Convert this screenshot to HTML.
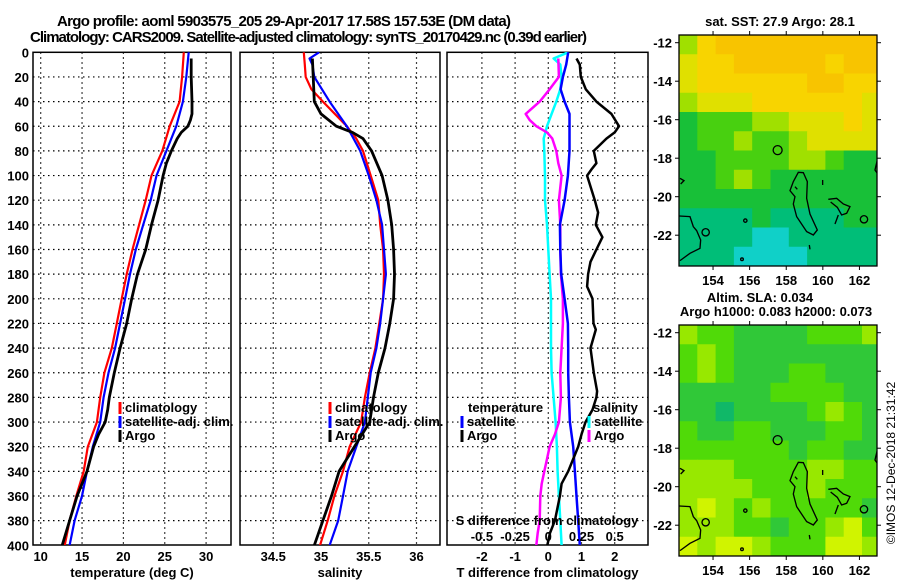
<!DOCTYPE html>
<html><head><meta charset="utf-8">
<style>
html,body{margin:0;padding:0;background:#fff;}
svg{display:block;font-family:"Liberation Sans",Arial,sans-serif;font-weight:bold;}
text{font-size:13px;fill:#000;}
</style></head>
<body>
<svg id="chart" width="900" height="580" viewBox="0 0 900 580" xmlns="http://www.w3.org/2000/svg">
<defs>
<clipPath id="c1"><rect x="33" y="52" width="198" height="493"/></clipPath>
<clipPath id="c2"><rect x="240" y="52" width="200" height="493"/></clipPath>
<clipPath id="c3"><rect x="447" y="52" width="201" height="493"/></clipPath>
<clipPath id="cm1"><rect x="679" y="35" width="198" height="231"/></clipPath>
<clipPath id="cm2"><rect x="679" y="325" width="198" height="231"/></clipPath>
</defs>
<text x="57" y="26" style="font-size:15px" textLength="454">Argo profile: aoml 5903575_205 29-Apr-2017 17.58S 157.53E (DM data)</text>
<text x="30" y="42" style="font-size:15px" textLength="557">Climatology: CARS2009. Satellite-adjusted climatology: synTS_20170429.nc (0.39d earlier)</text>
<g id="p1"></g>
<g id="p2"></g>
<g id="p3"></g>
<g id="m1"></g>
<g id="m2"></g>
<text x="780" y="26" text-anchor="middle">sat. SST: 27.9 Argo: 28.1</text>
<text x="760" y="302" text-anchor="middle">Altim. SLA: 0.034</text>
<text x="776" y="316" text-anchor="middle">Argo h1000: 0.083 h2000: 0.073</text>
<text transform="translate(895,463) rotate(-90)" text-anchor="middle" style="font-size:12px;font-weight:normal">©IMOS 12-Dec-2018 21:31:42</text>
</svg>
<script>
// ---- data ----
const yTicks = [0,20,40,60,80,100,120,140,160,180,200,220,240,260,280,300,320,340,360,380,400];
const tTicks = [10,15,20,25,30];
const sTicks = [34.5,35,35.5,36];
const sTickLabels = ["34.5","35","35.5","36"];
const dTicks = [-2,-1,0,1,2];
const dsTicks = [-0.5,-0.25,0,0.25,0.5];
const dsTickLabels = ["-0.5","-0.25","0","0.25","0.5"];

const tDepth = [0,20,40,60,80,100,120,140,160,180,200,220,240,260,280,300,320,340,360,380,400];
const tClim = [27.3,27.1,26.8,25.6,24.7,23.4,22.7,21.9,21.1,20.4,19.8,19.2,18.6,17.7,17.2,16.8,15.7,15.2,14.3,13.5,12.9];
const tSat = [27.9,27.6,27.2,26.4,25.2,24.0,23.3,22.4,21.5,20.8,20.2,19.6,19.0,18.2,17.6,17.2,16.3,15.6,15.0,14.1,13.5];
const tArgoDepth = [5,20,40,50,55,60,65,70,80,90,100,120,140,160,180,200,220,240,260,280,290,300,310,320,340,360,380,400];
const tArgo = [28.2,28.2,28.3,28.3,28.1,27.8,27.0,26.5,25.8,25.2,24.8,24.2,23.4,22.7,21.7,21.0,20.4,19.6,18.9,18.3,18.1,17.8,17.0,16.4,15.6,14.4,13.5,12.6];

const sClimDepth = [0,10,20,30,40,60,70,80,100,120,140,160,180,200,220,240,260,280,300,320,340,360,380,400];
const sClim = [34.82,34.83,34.84,34.90,35.02,35.27,35.37,35.44,35.52,35.60,35.62,35.65,35.66,35.65,35.61,35.57,35.51,35.46,35.42,35.30,35.23,35.14,35.07,34.99];
const sSatDepth = [0,5,10,20,40,60,80,100,120,140,160,180,200,220,240,260,280,300,320,340,360,380,400];
const sSat = [34.98,34.88,34.91,34.93,35.09,35.27,35.41,35.50,35.58,35.64,35.66,35.68,35.65,35.62,35.58,35.52,35.49,35.46,35.37,35.28,35.23,35.18,35.09];
const sArgoDepth = [5,40,50,60,65,70,80,100,120,140,160,180,200,220,240,260,280,300,320,340,360,380,400];
const sArgo = [34.91,34.93,35.0,35.16,35.33,35.44,35.53,35.64,35.70,35.74,35.76,35.77,35.76,35.72,35.67,35.60,35.55,35.51,35.35,35.19,35.11,35.02,34.93];

const dTSatDepth = [0,10,20,30,40,50,60,80,100,120,140,160,180,200,220,240,260,280,300,320,340,360,380,400];
const dTSat = [0.60,0.54,0.44,0.37,0.49,0.64,0.64,0.64,0.59,0.49,0.35,0.36,0.39,0.49,0.59,0.60,0.60,0.62,0.65,0.75,0.80,0.85,0.90,0.95];
const dTArgoDepth = [5,10,20,30,40,50,60,65,70,80,90,95,100,120,130,140,150,160,170,180,190,200,220,225,240,260,275,280,290,300,310,320,330,340,350,360,380,390,400];
const dTArgo = [0.85,0.95,0.98,1.13,1.45,1.90,2.13,2.0,1.75,1.37,1.45,1.30,1.17,1.40,1.50,1.43,1.63,1.45,1.27,1.20,1.17,1.33,1.36,1.43,1.27,1.37,1.47,1.45,1.33,1.12,1.0,0.90,0.75,0.60,0.40,0.35,0.20,0.05,-0.03];
const dSSatDepth = [0,5,10,20,30,40,50,60,70,80,100,120,140,160,180,200,220,240,260,280,300,320,340,360,380,400];
const dSSat = [0.15,0.04,0.09,0.10,0.09,0.06,0.025,-0.01,-0.035,-0.03,-0.025,-0.025,-0.01,0,0.01,0.02,0.02,0.02,0.025,0.04,0.055,0.065,0.07,0.08,0.09,0.10];
const dSArgoDepth = [5,20,30,40,50,55,60,65,70,80,90,100,120,140,160,180,200,220,240,260,280,300,310,320,330,340,350,360,380,390,400];
const dSArgo = [0.075,0.08,0.01,-0.065,-0.17,-0.14,-0.09,-0.01,0.03,0.06,0.075,0.10,0.08,0.09,0.09,0.095,0.11,0.11,0.10,0.09,0.095,0.08,0.05,0.01,-0.01,-0.03,-0.05,-0.06,-0.065,-0.08,-0.09];

const lonTicks = [154,156,158,160,162];
const latTicks = [-12,-14,-16,-18,-20,-22];
const sstGrid = [
[4,6,7,7,7,7,7,7,7,7,7],
[5,6,6,7,7,7,7,7,6,7,7],
[5,6,6,6,6,6,6,7,7,6,6],
[4,5,5,5,6,6,6,6,6,6,5],
[2,3,3,3,4,4,5,5,5,6,5],
[2,3,3,4,3,3,4,5,5,5,5],
[2,2,3,3,3,3,4,4,3,2,2],
[2,2,3,4,3,2,2,2,2,2,2],
[2,2,2,2,2,2,2,2,2,2,2],
[1,1,1,1,2,1,1,1,1,2,2],
[1,1,1,1,0,0,1,1,1,1,1],
[1,1,1,0,0,0,0,1,1,1,1]];
const slaGrid = [
[3,2,2,1,1,1,1,2,2,2,3],
[2,3,2,1,1,1,1,1,1,1,1],
[2,3,2,1,1,1,2,2,1,1,1],
[1,1,1,1,1,2,2,2,2,1,1],
[1,1,0,1,1,1,1,2,3,2,1],
[2,1,1,2,2,1,1,1,2,2,1],
[2,2,2,2,2,2,1,2,2,1,1],
[3,3,3,2,2,2,2,3,3,2,2],
[3,3,3,3,2,2,2,3,2,2,2],
[3,4,3,2,3,2,2,2,2,2,1],
[3,3,3,2,2,1,2,2,3,4,2],
[4,3,4,4,3,2,2,2,4,4,3]];
const argoLon = 157.53, argoLat = -17.58;

// ---- helpers ----
const NS="http://www.w3.org/2000/svg";
function mk(tag, attrs, parent){const e=document.createElementNS(NS,tag);for(const k in attrs)e.setAttribute(k,attrs[k]);parent.appendChild(e);return e;}
const Y0=52.3, YS=1.2325;
const yS = d => Y0 + d*YS;
const xT = t => 40.7 + (t-10)*8.27;
const xS = s => 321 + (s-35)*95.5;
const xD = d => 548.3 + d*33.2;
const xDS = s => 548.3 + s*132.8;

function panel(g, x0, x1, xTicks, xf, labels, title, clip){
  for(const d of yTicks){ if(d===0||d===400)continue;
    const l=mk('line',{x1:x0,x2:x1,y1:yS(d),y2:yS(d),stroke:'#000','stroke-width':1.2,'stroke-dasharray':'1.5 3.5'},g);
    
    
  }
  xTicks.forEach((v,i)=>{
    const l=mk('line',{x1:xf(v),x2:xf(v),y1:Y0,y2:545,stroke:'#000','stroke-width':1.2,'stroke-dasharray':'1.5 3.5'},g);
    
    
    const t=mk('text',{x:xf(v),y:561,'text-anchor':'middle'},g); t.textContent=labels?labels[i]:String(v);
    
    
  });
  const r=mk('rect',{x:x0,y:Y0,width:x1-x0,height:545-Y0,fill:'none',stroke:'#000','stroke-width':1.5},g);
  
  
  const tt=mk('text',{x:(x0+x1)/2,y:577,'text-anchor':'middle'},g); tt.textContent=title;
  
  
  return mk('g',{'clip-path':'url(#'+clip+')'},g);
}
function line(g, depths, vals, xf, color, w, name){
  const pts=depths.map((d,i)=>xf(vals[i]).toFixed(1)+','+yS(d).toFixed(1)).join(' ');
  const p=mk('polyline',{points:pts,fill:'none',stroke:color,'stroke-width':w,'stroke-linejoin':'round'},g);
  
  
}
function legend(g, x, y, color, label, name){
  const r=mk('rect',{x:x-1.5,y:y-10,width:3,height:12,fill:color},g);
  
  
  const t=mk('text',{x:x+5,y:y},g); t.textContent=label;
  
  
}

// panel 1
const p1=document.getElementById('p1');
for(const d of yTicks){const t=mk('text',{x:29,y:yS(d)+5,'text-anchor':'end'},p1);t.textContent=String(d);
  
  }
const c1=panel(p1,33,231,tTicks,xT,null,'temperature (deg C)','c1');
line(c1,tDepth,tClim,xT,'#f00',2.2,'temperature-climatology-line');
line(c1,tDepth,tSat,xT,'#00f',2.2,'temperature-satellite-line');
line(c1,tArgoDepth,tArgo,xT,'#000',2.8,'temperature-argo-line');
legend(p1,120,412,'#f00','climatology','legend-climatology');
legend(p1,120,426,'#00f','satellite-adj. clim.','legend-satellite');
legend(p1,120,440,'#000','Argo','legend-argo');

// panel 2
const p2=document.getElementById('p2');
const c2=panel(p2,240,440,sTicks,xS,sTickLabels,'salinity','c2');
line(c2,sClimDepth,sClim,xS,'#f00',2.2,'salinity-climatology-line');
line(c2,sSatDepth,sSat,xS,'#00f',2.2,'salinity-satellite-line');
line(c2,sArgoDepth,sArgo,xS,'#000',2.8,'salinity-argo-line');
legend(p2,330,412,'#f00','climatology','legend-climatology');
legend(p2,330,426,'#00f','satellite-adj. clim.','legend-satellite');
legend(p2,330,440,'#000','Argo','legend-argo');

// panel 3
const p3=document.getElementById('p3');
const c3=panel(p3,447,648,dTicks,xD,null,'T difference from climatology','c3');
line(c3,dSSatDepth,dSSat,xDS,'#0ff',2.5,'s-diff-satellite-line');
line(c3,dSArgoDepth,dSArgo,xDS,'#f0f',2.5,'s-diff-argo-line');
line(c3,dTSatDepth,dTSat,xD,'#00f',2.5,'t-diff-satellite-line');
line(c3,dTArgoDepth,dTArgo,xD,'#000',2.5,'t-diff-argo-line');
{const t=mk('text',{x:468,y:412},p3);t.textContent='temperature';
 
 
 const t2=mk('text',{x:593,y:412},p3);t2.textContent='salinity';
 
 }
legend(p3,462,426,'#00f','satellite','legend-t-satellite');
legend(p3,462,440,'#000','Argo','legend-t-argo');
legend(p3,589,426,'#0ff','satellite','legend-s-satellite');
legend(p3,589,440,'#f0f','Argo','legend-s-argo');
{const t=mk('text',{x:547,y:525,'text-anchor':'middle'},p3);t.textContent='S difference from climatology';
 
 }
dsTicks.forEach((v,i)=>{const t=mk('text',{x:xDS(v),y:541,'text-anchor':'middle'},p3);t.textContent=dsTickLabels[i];
 
 });

// maps
const sstColors=['#10d0c8','#00be78','#18c038','#48d010','#a0e000','#e0e000','#f8d400','#f8c400'];
const slaColors=['#10b868','#30c838','#50da08','#98e800','#d0f400'];
const LON0=152.14, LONS=18.3, LAT0=-11.6, LATS=19.25;
function drawMap(id, top, grid, colors, clip){
  const g=document.getElementById(id);
  const xL = lon => 679 + (lon-LON0)*LONS;
  const yL = lat => top + (LAT0-lat)*LATS;
  const cg=mk('g',{'clip-path':'url(#'+clip+')'},g);
  grid.forEach((row,r)=>row.forEach((v,c)=>{
    const lon=LON0+c, lat=LAT0-r;
    const rc=mk('rect',{x:xL(lon),y:yL(lat),width:LONS+0.6,height:LATS+0.6,fill:colors[v]},cg);
    
    
  }));
  const coast=mk('g',{transform:'translate(660,'+(top-35)+') scale(0.3333)',fill:'none',stroke:'#000','stroke-width':4},cg);
  
  
  ['M415,517 L400,545 L390,572 L405,590 L400,612 L410,650 L440,695 L460,705 L472,690 L450,642 L440,595 L442,545 L430,518 Z',
   'M58,648 L90,650 L100,680 L110,692 L122,720 L120,745 L90,760 L60,782',
   'M505,598 L530,595 L550,612 L570,620 L560,640 L545,645 L532,622 L512,606',
   'M525,672 L535,645','M652,480 L645,510 L652,520','M60,535 L72,542 L62,552',
   'M488,540 L488,555','M448,735 L450,748','M405,560 L412,568']
   .forEach(d=>mk('path',{d:d},coast));
  mk('circle',{cx:137,cy:697,r:11},coast);
  mk('circle',{cx:612,cy:658,r:11},coast);
  mk('circle',{cx:256,cy:662,r:5},coast);
  mk('circle',{cx:246,cy:778,r:4},coast);
  const ac=mk('circle',{cx:xL(argoLon),cy:yL(argoLat),r:4.5,fill:'none',stroke:'#000','stroke-width':1.3},g);
  
  
  const fr=mk('rect',{x:679,y:top,width:198,height:231,fill:'none',stroke:'#000','stroke-width':1.3},g);
  
  
  lonTicks.forEach(v=>{
    mk('line',{x1:xL(v),x2:xL(v),y1:top-4,y2:top,stroke:'#000','stroke-width':1},g);
    mk('line',{x1:xL(v),x2:xL(v),y1:top+231,y2:top+235,stroke:'#000','stroke-width':1},g);
    const t=mk('text',{x:xL(v),y:top+250,'text-anchor':'middle'},g);t.textContent=String(v);
    
    
  });
  latTicks.forEach(v=>{
    mk('line',{x1:877,x2:881,y1:yL(v),y2:yL(v),stroke:'#000','stroke-width':1},g);
    mk('line',{x1:675,x2:679,y1:yL(v),y2:yL(v),stroke:'#000','stroke-width':1},g);
    const t=mk('text',{x:672,y:yL(v)+5,'text-anchor':'end'},g);t.textContent=String(v);
    
    
  });
}
drawMap('m1',35,sstGrid,sstColors,'cm1');
drawMap('m2',325,slaGrid,slaColors,'cm2');
</script>
</body></html>
